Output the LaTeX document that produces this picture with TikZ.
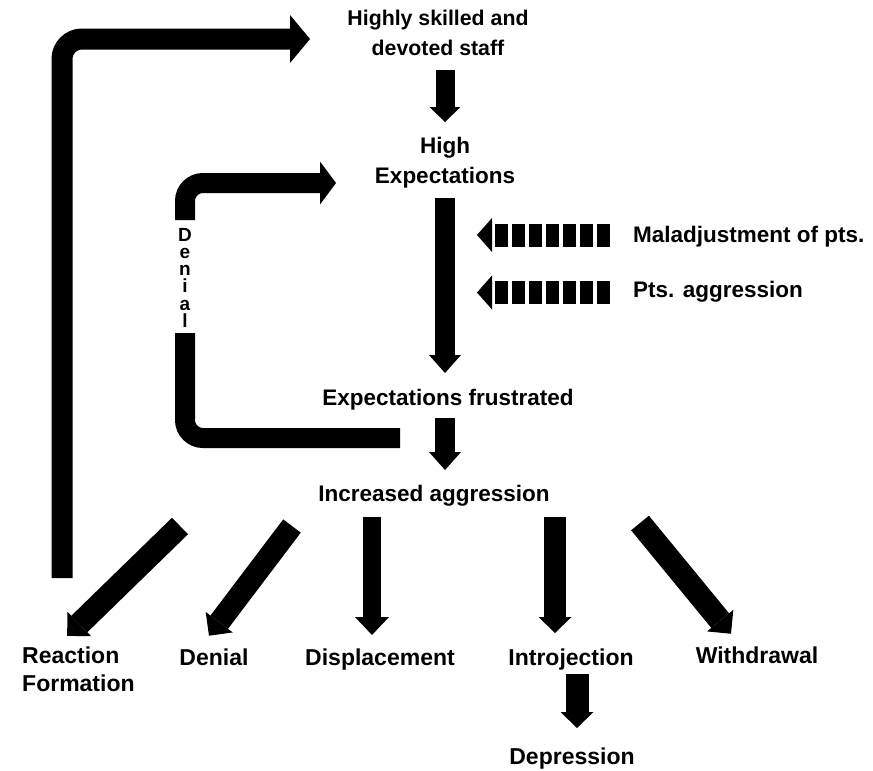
\documentclass[tikz,border=0pt]{standalone}
\usepackage{fontspec}
\setmainfont{Liberation Sans}
\usetikzlibrary{arrows.meta}
\tikzset{
  txt/.style={font=\bfseries\fontsize{22.5}{30}\selectfont, inner sep=0pt, align=center},
  low/.style={font=\bfseries\fontsize{23}{28}\selectfont, inner sep=0pt, align=left},
  vert/.style={font=\bfseries\fontsize{19}{17.2}\selectfont, inner sep=0pt, align=center},
  barrow/.style n args={3}{line width=#1, line cap=butt, draw=black,
    -{Triangle[width=#2,length=#3,line width=0pt]}},
  garrow/.style n args={3}{line width=#1, line cap=butt, draw=black,
    -{Triangle[width=#2,length=#3,line width=0pt,sep=1.6pt]}},
  bar/.style={line width=#1, line cap=butt, draw=black},
  dasharrow/.style={line width=23pt, line cap=butt, draw=black,
    dash pattern=on 13.5pt off 3.5pt,
    -{Triangle[width=34pt,length=15pt,line width=0pt]}},
}
\begin{document}
\begin{tikzpicture}[x=1pt,y=-1pt]
\useasboundingbox (0,0) rectangle (873,771);
% texts
\node[txt, font=\bfseries\fontsize{21.3}{30}\selectfont] (hs) at (438,33) {Highly skilled and\\devoted staff};
\node[txt] (he) at (445,163) {High\\Expectations};
\node[txt, anchor=west] (mal) at (633,237) {Maladjustment of pts.};
\node[txt, anchor=west] (pag) at (633,292) {Pts. aggression};
\node[txt] (ef) at (448,400) {Expectations frustrated};
\node[txt] (ia) at (434,496) {Increased aggression};
\node[low, anchor=north west] (rf) at (22,647) {Reaction\\Formation};
\node[low, anchor=base] (den) at (214,665) {Denial};
\node[low, anchor=base] (dis) at (380,665) {Displacement};
\node[low, anchor=base] (intr) at (571,665) {Introjection};
\node[low, anchor=base] (wd) at (757,663) {Withdrawal};
\node[low, anchor=base] (dep) at (572,764) {Depression};
\node[vert, anchor=north] (vden) at (185,228) {D\\e\\n\\i\\a\\l};
% coordinates
\coordinate (a1s) at (445,70);  \coordinate (a1e) at (445,122);
\coordinate (a2s) at (445,198); \coordinate (a2e) at (445,373);
\coordinate (a3s) at (445,418); \coordinate (a3e) at (445,470);
\coordinate (tls) at (62,578);  \coordinate (tle) at (310,39);
\coordinate (dus) at (185,220); \coordinate (due) at (336,183);
\coordinate (dls) at (185,333); \coordinate (dle) at (400,438);
\coordinate (m1s) at (610,235); \coordinate (m1e) at (477,235);
\coordinate (m2s) at (610,292.5); \coordinate (m2e) at (477,292.5);
\coordinate (rfs) at (180,526); \coordinate (rfe) at (66,637);
\coordinate (dns) at (292,526); \coordinate (dne) at (208,637);
\coordinate (dps) at (372,517); \coordinate (dpe) at (372,635);
\coordinate (ins) at (555,517); \coordinate (ine) at (555,633);
\coordinate (wds) at (640,523); \coordinate (wde) at (732,635);
\coordinate (des) at (577,674); \coordinate (dee) at (577,728);
% main chain
\draw[barrow={19pt}{31pt}{15pt}] (a1s) -- (a1e);
\draw[barrow={20pt}{32pt}{18pt}] (a2s) -- (a2e);
\draw[barrow={20pt}{32pt}{18pt}] (a3s) -- (a3e);
% feedback loops
\draw[barrow={21pt}{48pt}{20pt}, rounded corners=20pt] (tls) |- (tle);
\draw[barrow={20pt}{43pt}{16pt}, rounded corners=18pt] (dus) |- (due);
\draw[bar=20pt, rounded corners=18pt] (dls) |- (dle);
% dashed inputs
\draw[dasharrow] (m1s) -- (m1e);
\draw[dasharrow] (m2s) -- (m2e);
% outcomes
\draw[garrow={23pt}{34pt}{17pt}] (rfs) -- (rfe);
\draw[garrow={22pt}{34pt}{17pt}] (dns) -- (dne);
\draw[barrow={18pt}{34pt}{18pt}] (dps) -- (dpe);
\draw[barrow={22pt}{33pt}{16pt}] (ins) -- (ine);
\draw[garrow={23pt}{34pt}{17pt}] (wds) -- (wde);
\draw[barrow={23pt}{33pt}{16pt}] (des) -- (dee);
\end{tikzpicture}
\end{document}
